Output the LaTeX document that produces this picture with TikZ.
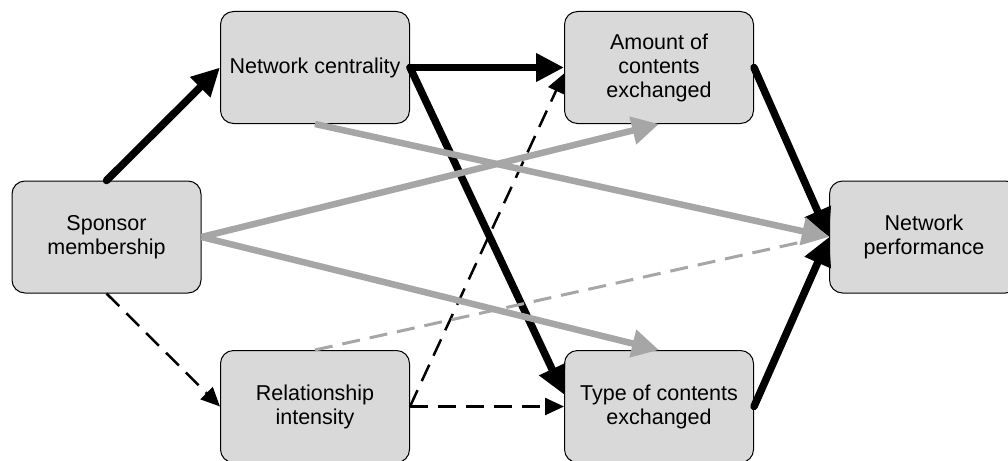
\documentclass[tikz,border=0pt]{standalone}
\usepackage{fontspec}
\setmainfont{Liberation Sans}
\usetikzlibrary{arrows.meta}
\definecolor{boxgray}{HTML}{D9D9D9}
\definecolor{linegray}{HTML}{A6A6A6}
\begin{document}
\begin{tikzpicture}[x=1pt,y=-1pt,
  box/.style={draw=black, line width=1pt, fill=boxgray, rounded corners=13pt,
    minimum width=189pt, minimum height=112pt, align=center, inner sep=0pt,
    font=\fontsize{21.5}{24}\selectfont},
  blk/.style={draw=black, line width=7.5pt, line cap=round,
    -{Triangle[length=28pt,width=27pt]}},
  gry/.style={draw=linegray, line width=6.5pt,
    -{Triangle[length=27pt,width=27pt]}},
  bdash/.style={draw=black, line width=2.5pt, dash pattern=on 18pt off 10pt,
    -{Triangle[length=19pt,width=17pt]}},
  gdash/.style={draw=linegray, line width=3pt, dash pattern=on 18pt off 10pt},
]
\useasboundingbox (0,0) rectangle (1008,460);
\clip (0,0) rectangle (1008,460);
\fill[white] (0,0) rectangle (1008,460);

\node[box] (SM) at (106.5,237) {Sponsor\\membership};
\node[box] (NC) at (315,67.5) {Network centrality};
\node[box] (AC) at (659,67.5) {Amount of\\contents\\exchanged};
\node[box] (RI) at (315,406.5) {Relationship\\intensity};
\node[box] (TC) at (659,406.5) {Type of contents\\exchanged};
\node[box] (NP) at (924,237) {Network\\performance};

% black solid
\draw[blk] (SM.north) -- (NC.west);
\draw[blk] (NC.east) -- (AC.west);
\draw[blk] (NC.east) -- ([yshift=12pt]TC.west);
\draw[blk] (AC.east) -- (NP.west);
\draw[blk] (TC.east) -- (NP.west);
% black dashed
\draw[bdash] (SM.south) -- (RI.west);
\draw[bdash] (RI.east) -- ([yshift=-6pt]AC.west);
\draw[bdash] (RI.east) -- (TC.west);
% gray dashed
\draw[gdash] (RI.north) -- ([xshift=-14pt,yshift=-2pt]NP.west);
% gray solid
\draw[gry] (NC.south) -- (NP.west);
\draw[gry] (SM.east) -- (AC.south);
\draw[gry] (SM.east) -- (TC.north);
\end{tikzpicture}
\end{document}
